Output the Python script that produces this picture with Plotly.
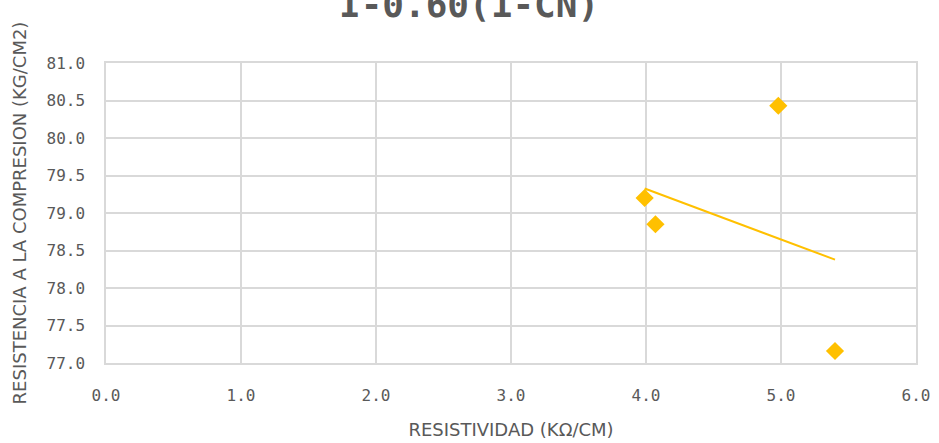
import numpy as np
import plotly.graph_objects as go

# Resistivity vs compressive strength samples
resistividad = [3.99, 4.07, 4.98, 5.40]
resistencia = [79.20, 78.85, 80.43, 77.16]

titulo = "I-0.60(1-CN)"
eje_x = "RESISTIVIDAD (KΩ/CM)"
eje_y = "RESISTENCIA A LA COMPRESION (KG/CM2)"

gold = "#FFC000"
grid = "#D9D9D9"
text = "#595959"

# Linear trendline over the span of the data
m, b = np.polyfit(resistividad, resistencia, 1)
tx = [min(resistividad), max(resistividad)]
ty = [m * v + b for v in tx]

fig = go.Figure()
fig.add_trace(go.Scatter(x=tx, y=ty, mode="lines",
                         line=dict(color=gold, width=2), hoverinfo="skip",
                         showlegend=False))
fig.add_trace(go.Scatter(x=resistividad, y=resistencia, mode="markers",
                         marker=dict(symbol="diamond", size=14, color=gold),
                         showlegend=False))

fig.add_annotation(text="<b>" + titulo + "</b>", xref="paper", yref="paper",
                   x=0.448, y=1, yanchor="bottom", yshift=36, showarrow=False,
                   font=dict(family="DejaVu Sans Mono", size=36, color=text))

fig.update_layout(
    width=939, height=443,
    margin=dict(l=106, r=23, t=63, b=80),
    paper_bgcolor="white", plot_bgcolor="white",
    font=dict(family="DejaVu Sans Mono", color=text),
    xaxis=dict(range=[0, 6], dtick=1, tickformat=".1f", showgrid=True,
               gridcolor=grid, gridwidth=1.5, zeroline=False, automargin=False,
               showline=True, linecolor=grid, linewidth=1.5, mirror=True,
               ticks="", tickfont=dict(size=16, color=text),
               ticklabelstandoff=17,
               title=dict(text=eje_x, standoff=19,
                          font=dict(family="DejaVu Sans", size=18, color=text))),
    yaxis=dict(range=[77, 81], dtick=0.5, tickformat=".1f", showgrid=True,
               gridcolor=grid, gridwidth=1.5, zeroline=False, automargin=False,
               showline=True, linecolor=grid, linewidth=1.5, mirror=True,
               ticks="", tickfont=dict(size=16, color=text),
               ticklabelstandoff=16,
               title=dict(text=eje_y, standoff=15,
                          font=dict(family="DejaVu Sans", size=18, color=text))),
)

fig.write_html("out.html")
